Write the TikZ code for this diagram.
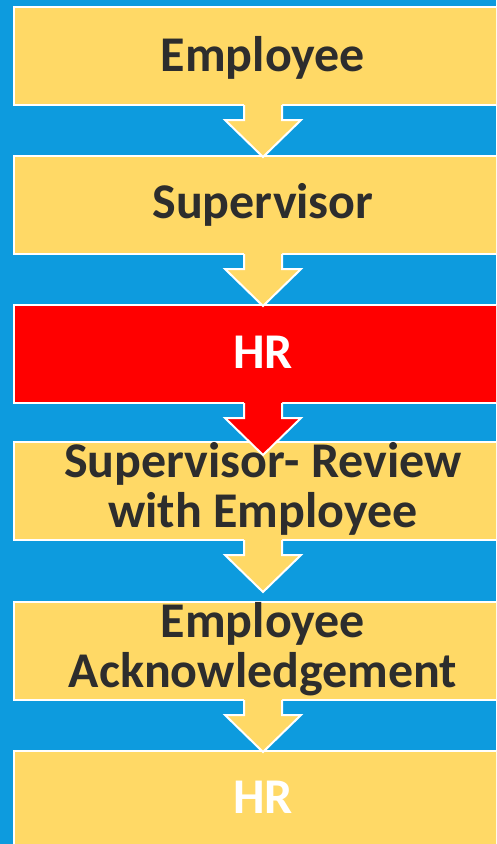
\documentclass[tikz,border=0pt]{standalone}
\usepackage{fontspec}
\setmainfont{Carlito}
\usetikzlibrary{calc}
\definecolor{bgblue}{RGB}{13,155,222}
\definecolor{stepyellow}{RGB}{255,217,102}
\definecolor{stepred}{RGB}{255,0,0}
\definecolor{labelgray}{RGB}{45,45,45}
\tikzset{
  stepbox/.style={draw=white, line width=2pt, outer sep=0pt, inner sep=0pt,
    minimum width=498pt, minimum height=98pt, anchor=north west},
  steplabel/.style={anchor=base, align=center, inner sep=0pt,
    font=\fontsize{50}{50}\selectfont\bfseries, text=labelgray},
}
% block arrow hanging below a box: shaft 38 wide, head 76 wide
\newcommand{\flowarrow}[2]{%
  \fill[#2] ($(#1.south)+(-19,-2)$) -- ($(#1.south)+(-19,15)$)
    -- ($(#1.south)+(-38,15)$) -- ($(#1.south)+(0,52)$)
    -- ($(#1.south)+(38,15)$) -- ($(#1.south)+(19,15)$)
    -- ($(#1.south)+(19,-2)$) -- cycle;
  \draw[white, line width=2pt, miter limit=4] ($(#1.south)+(-19,0)$) -- ($(#1.south)+(-19,15)$)
    -- ($(#1.south)+(-38,15)$) -- ($(#1.south)+(0,52)$)
    -- ($(#1.south)+(38,15)$) -- ($(#1.south)+(19,15)$)
    -- ($(#1.south)+(19,0)$);
}
\begin{document}
\begin{tikzpicture}[x=1pt,y=-1pt]
\fill[bgblue] (0,0) rectangle (496,844);
\useasboundingbox (0,0) rectangle (496,844);
\clip (0,0) rectangle (496,844);

% process steps
\node[stepbox, fill=stepyellow] (b1) at (14,7) {};
\node[stepbox, fill=stepyellow] (b2) at (14,156) {};
\node[stepbox, fill=stepred] (b3) at (14,305) {};
\node[stepbox, fill=stepyellow] (b4) at (14,442) {};
\node[stepbox, fill=stepyellow] (b5) at (14,602) {};
\node[stepbox, fill=stepyellow] (b6) at (14,751) {};

% arrows between the steps
\flowarrow{b1}{stepyellow}
\flowarrow{b2}{stepyellow}
\flowarrow{b3}{stepred}
\flowarrow{b4}{stepyellow}
\flowarrow{b5}{stepyellow}

% labels (a multi-line label sits on the baseline of its last line)
\node[steplabel] (t1) at (263,71) {Employee};
\node[steplabel] (t2) at (263,218) {Supervisor};
\node[steplabel, text=white] (t3) at (263,368) {HR};
\node[steplabel] (t4) at (263,527) {Supervisor- Review\\with Employee};
\node[steplabel] (t5) at (263,687) {Employee\\Acknowledgement};
\node[steplabel, text=white] (t6) at (263,813) {HR};
\end{tikzpicture}
\end{document}
